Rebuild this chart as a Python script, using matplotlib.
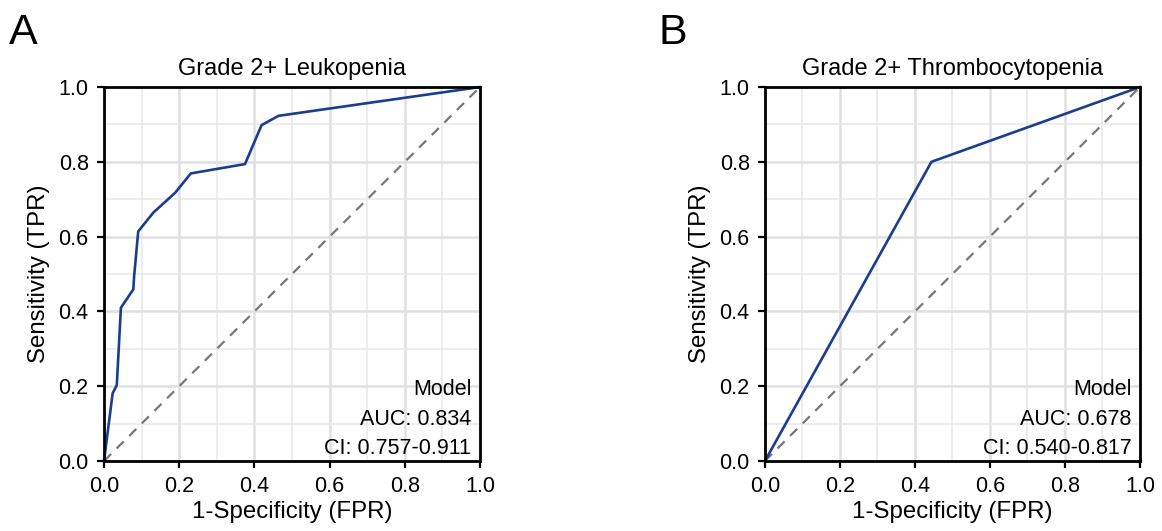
import numpy as np
import matplotlib.pyplot as plt
from matplotlib.ticker import MultipleLocator

plt.rcParams['font.family'] = ['Liberation Sans', 'DejaVu Sans']

# ROC data
fpr_a = [0.0, 0.023, 0.034, 0.045, 0.078, 0.080, 0.091, 0.131, 0.189, 0.231, 0.375, 0.419, 0.464, 1.0]
tpr_a = [0.0, 0.181, 0.203, 0.410, 0.459, 0.493, 0.614, 0.664, 0.717, 0.769, 0.794, 0.898, 0.923, 1.0]
fpr_b = [0.0, 0.444, 1.0]
tpr_b = [0.0, 0.800, 1.0]

titles = ['Grade 2+ Leukopenia', 'Grade 2+ Thrombocytopenia']
letters = ['A', 'B']
auc = ['0.834', '0.678']
ci = ['0.757-0.911', '0.540-0.817']

fig = plt.figure(figsize=(11.62, 5.31), dpi=100)
ax_a = fig.add_axes([0.0895, 0.1318, 0.3236, 0.7043])
ax_b = fig.add_axes([0.6583, 0.1318, 0.3227, 0.7043])

for i, (ax, fx, ty) in enumerate([(ax_a, fpr_a, tpr_a), (ax_b, fpr_b, tpr_b)]):
    ax.set_xlim(0, 1)
    ax.set_ylim(0, 1)
    ax.xaxis.set_major_locator(MultipleLocator(0.2))
    ax.yaxis.set_major_locator(MultipleLocator(0.2))
    ax.xaxis.set_minor_locator(MultipleLocator(0.1))
    ax.yaxis.set_minor_locator(MultipleLocator(0.1))
    ax.grid(which='major', color='#e0e0e0', linewidth=1.8)
    ax.grid(which='minor', color='#e8e8e8', linewidth=1.1)
    ax.set_axisbelow(True)
    ax.tick_params(which='minor', length=0)
    ax.tick_params(which='major', length=5, width=1.6, labelsize=15.5, color='black', pad=6)
    ax.xaxis.set_major_formatter(plt.FuncFormatter(lambda v, p: f'{v:.1f}'))
    ax.yaxis.set_major_formatter(plt.FuncFormatter(lambda v, p: f'{v:.1f}'))
    for s in ax.spines.values():
        s.set_linewidth(2.0)
        s.set_color('black')
    ax.plot([0, 1], [0, 1], color='#777777', linewidth=1.6, linestyle=(0, (4.5, 3.5)))
    ax.plot(fx, ty, color='#1b3d8f', linewidth=1.9, clip_on=False)
    ax.set_title(titles[i], fontsize=17, pad=9)
    ax.set_xlabel('1-Specificity (FPR)', fontsize=17.3, labelpad=3)
    ax.set_ylabel('Sensitivity (TPR)', fontsize=17.3, labelpad=6)
    ax.text(0.977, 0.176, 'Model', ha='right', va='baseline', fontsize=15.5, transform=ax.transAxes)
    ax.text(0.977, 0.096, f'AUC: {auc[i]}', ha='right', va='baseline', fontsize=15.5, transform=ax.transAxes)
    ax.text(0.977, 0.018, f'CI: {ci[i]}', ha='right', va='baseline', fontsize=15.5, transform=ax.transAxes)

fig.text(0.008, 0.918, letters[0], fontsize=31, va='baseline')
fig.text(0.567, 0.918, letters[1], fontsize=31, va='baseline')

fig.savefig('out.png', dpi=100)
